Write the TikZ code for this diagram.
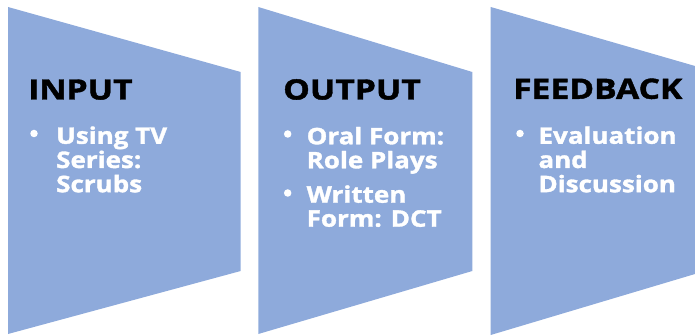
\documentclass[tikz,border=0pt]{standalone}
\usepackage{fontspec}
\newfontfamily\headfont{Open Sans}[FakeStretch=1.2, FakeBold=1.5]
\newfontfamily\itemfont{Open Sans}[FakeStretch=1.14, FakeBold=1.5]
\begin{document}
\begin{tikzpicture}[x=1pt,y=-1pt]
\definecolor{panelblue}{RGB}{142,170,219}
\tikzset{
  panel/.style={fill=panelblue, draw=none},
  heading/.style={anchor=base west, inner sep=0pt, text=black,
    font=\headfont\bfseries\fontsize{28}{28}\selectfont},
  item/.style={anchor=base west, inner sep=0pt, text=white,
    font=\itemfont\bfseries\fontsize{22.8}{24.2}\selectfont},
  dot/.style={circle, fill=white, draw=none, inner sep=0pt, minimum size=7.5pt}
}
\useasboundingbox (0,0) rectangle (695,336);

% three tapering panels
\fill[panel] (8,7) -- (240.7,72) -- (240.7,271) -- (8,334) -- cycle;
\fill[panel] (258.3,7) -- (472.3,72) -- (472.3,271) -- (258.3,334) -- cycle;
\fill[panel] (490.7,7) -- (695,66) -- (695,274) -- (490.7,335) -- cycle;

% INPUT
\node[heading] (inT) at (28,99.5) {INPUT};
\node[dot] (inB1) at (34,133.5) {};
\node[item] (in1) at (56,143.8) {Using TV};
\node[item] (in2) at (56,168) {Series:};
\node[item] (in3) at (56,192.2) {Scrubs};

% OUTPUT
\node[heading] (outT) at (283,99.5) {OUTPUT};
\node[dot] (outB1) at (287.7,134) {};
\node[item] (out1) at (306.5,144.3) {Oral Form:};
\node[item] (out2) at (306.5,168.3) {Role Plays};
\node[dot] (outB2) at (287.7,193) {};
\node[item] (out3) at (306.5,202.7) {Written};
\node[item] (out4) at (306.5,226.7) {Form: DCT};

% FEEDBACK
\node[heading] (fbT) at (513,98.8) {FEEDBACK};
\node[dot] (fbB1) at (520,133.5) {};
\node[item] (fb1) at (538.3,143.8) {Evaluation};
\node[item] (fb2) at (538.3,168) {and};
\node[item] (fb3) at (538.3,192.2) {Discussion};
\end{tikzpicture}
\end{document}
